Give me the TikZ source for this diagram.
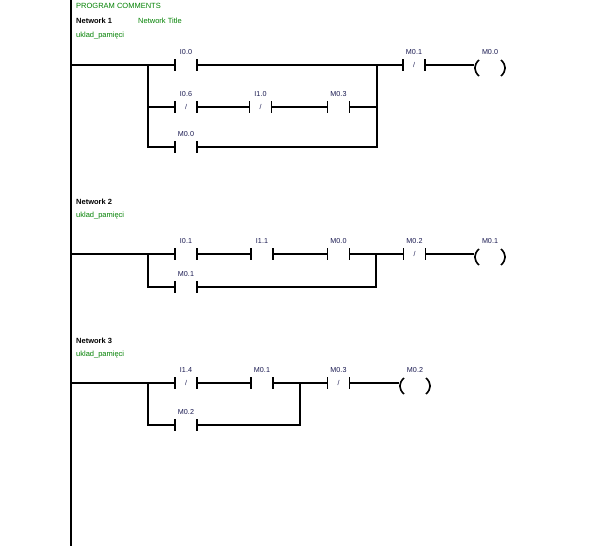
\documentclass[tikz,border=0pt]{standalone}
\usepackage{fontspec}
\setmainfont{Liberation Sans}
\usetikzlibrary{calc}
\definecolor{cgreen}{RGB}{0,128,0}
\definecolor{lblue}{RGB}{25,25,80}
\tikzset{
  wire/.style={line width=1.8pt},
  railline/.style={line width=2.6pt},
  gtext/.style={text=cgreen, font=\fontsize{7.5}{9}\selectfont, inner sep=0pt, anchor=west},
  btext/.style={text=black, font=\fontsize{7.5}{9}\selectfont\bfseries, inner sep=0pt, anchor=west},
  lab/.style={text=lblue, font=\fontsize{7.2}{8}\selectfont, inner sep=0pt},
  contact/.style={minimum width=22pt, minimum height=12pt, inner sep=0pt, outer sep=0pt,
    text=lblue, font=\fontsize{7}{8}\selectfont,
    label={[lab,label distance=4.4pt]above:#1},
    append after command={\pgfextra{
      \draw[wire] (\tikzlastnode.north west) -- (\tikzlastnode.south west)
                  (\tikzlastnode.north east) -- (\tikzlastnode.south east);}}},
  coil/.style={minimum width=32pt, minimum height=16pt, inner sep=0pt, outer sep=0pt,
    label={[lab,label distance=5.4pt]above:#1},
    append after command={\pgfextra{
      \draw[line width=1.6pt] ([xshift=5pt]\tikzlastnode.north west) .. controls ([xshift=-0.5pt,yshift=-5pt]\tikzlastnode.north west) and ([xshift=-0.5pt,yshift=5pt]\tikzlastnode.south west) .. ([xshift=5pt]\tikzlastnode.south west);
      \draw[line width=1.6pt] ([xshift=-5pt]\tikzlastnode.north east) .. controls ([xshift=0.5pt,yshift=-5pt]\tikzlastnode.north east) and ([xshift=0.5pt,yshift=5pt]\tikzlastnode.south east) .. ([xshift=-5pt]\tikzlastnode.south east);}}}
}
\begin{document}
\begin{tikzpicture}[x=1pt,y=-1pt]
\useasboundingbox (0,0) rectangle (603,546);
% left power rail
\coordinate (railtop) at (71,0);
\coordinate (railbot) at (71,546);
\draw[railline] (railtop) -- (railbot);

% header texts
\node[gtext] (pc) at (76,6) {PROGRAM COMMENTS};
\node[btext] (nw1) at (76,20.5) {Network 1};
\node[gtext] (nt1) at (138,20.5) {Network Title};
\node[gtext] (cm1) at (76,35.5) {uklad\_pamięci};

% ---------- Network 1 ----------
\coordinate (r1) at (71,65);
\coordinate (b1) at (148,65);
\coordinate (j1) at (377,65);
\node[contact=I0.0] (c11) at (186,65) {};
\node[contact=I0.6] (c12) at (186,107) {/};
\node[contact=I1.0] (c13) at (260.5,107) {/};
\node[contact=M0.3] (c14) at (338.5,107) {};
\node[contact=M0.0] (c15) at (186,147) {};
\node[contact=M0.1] (c16) at (414,65) {/};
\node[coil=M0.0] (k1) at (490,68) {};
\draw[wire] (r1) -- (c11.west);
\draw[wire] (c11.east) -- (c16.west);
\draw[wire] (c16.east) -- (c16.east -| k1.west);
\draw[wire] (b1) |- (c12.west);
\draw[wire] (c12.east) -- (c13.west);
\draw[wire] (c13.east) -- (c14.west);
\draw[wire] (c14.east) -| (j1);
\draw[wire] (b1) |- (c15.west);
\draw[wire] (c15.east) -| (j1);

% ---------- Network 2 ----------
\node[btext] (nw2) at (76,201.5) {Network 2};
\node[gtext] (cm2) at (76,215.5) {uklad\_pamięci};
\coordinate (r2) at (71,254);
\coordinate (b2) at (148,254);
\coordinate (j2) at (376,254);
\node[contact=I0.1] (c21) at (186,254) {};
\node[contact=I1.1] (c22) at (262,254) {};
\node[contact=M0.0] (c23) at (338.5,254) {};
\node[contact=M0.2] (c24) at (414.5,254) {/};
\node[contact=M0.1] (c25) at (186,287) {};
\node[coil=M0.1] (k2) at (490,257) {};
\draw[wire] (r2) -- (c21.west);
\draw[wire] (c21.east) -- (c22.west);
\draw[wire] (c22.east) -- (c23.west);
\draw[wire] (c23.east) -- (c24.west);
\draw[wire] (c24.east) -- (c24.east -| k2.west);
\draw[wire] (b2) |- (c25.west);
\draw[wire] (c25.east) -| (j2);

% ---------- Network 3 ----------
\node[btext] (nw3) at (76,340.5) {Network 3};
\node[gtext] (cm3) at (76,354.5) {uklad\_pamięci};
\coordinate (r3) at (71,383);
\coordinate (b3) at (148,383);
\coordinate (j3) at (300,383);
\node[contact=I1.4] (c31) at (186,383) {/};
\node[contact=M0.1] (c32) at (262,383) {};
\node[contact=M0.3] (c33) at (338.5,383) {/};
\node[contact=M0.2] (c34) at (186,425) {};
\node[coil=M0.2] (k3) at (415,386) {};
\draw[wire] (r3) -- (c31.west);
\draw[wire] (c31.east) -- (c32.west);
\draw[wire] (c32.east) -- (c33.west);
\draw[wire] (c33.east) -- (c33.east -| k3.west);
\draw[wire] (b3) |- (c34.west);
\draw[wire] (c34.east) -| (j3);
\end{tikzpicture}
\end{document}
